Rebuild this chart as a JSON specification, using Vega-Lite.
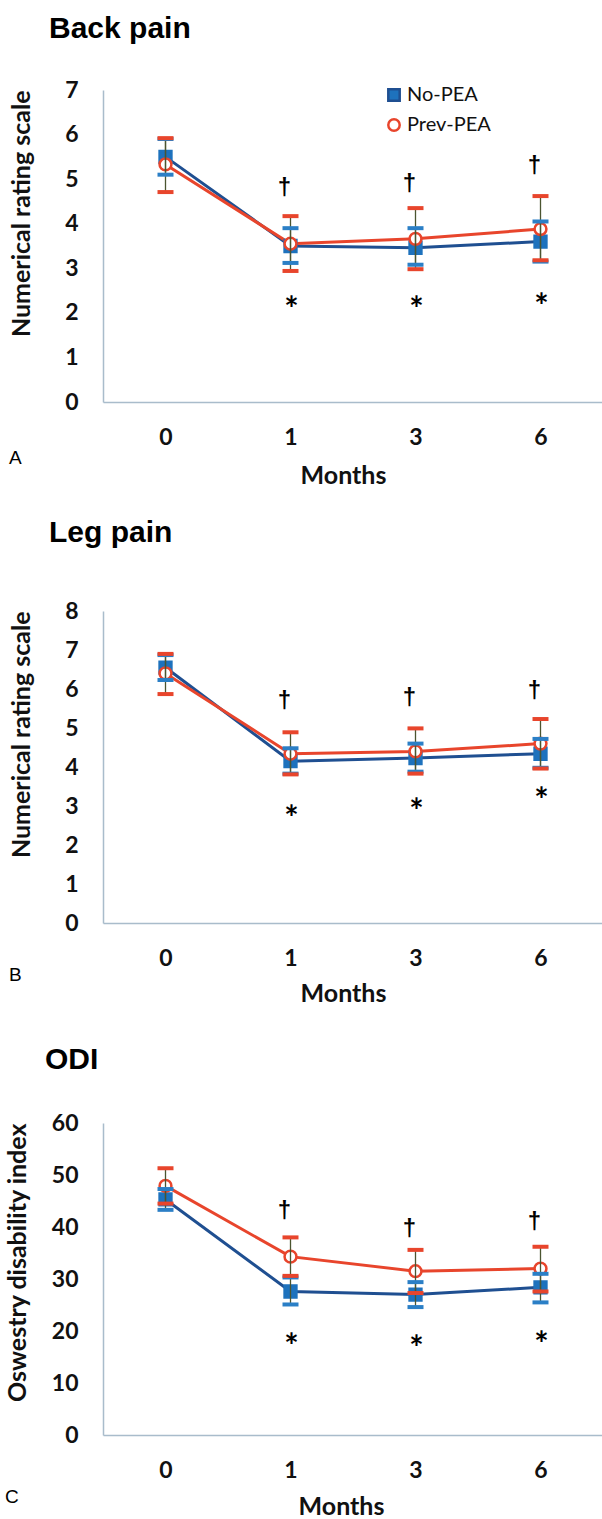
{
  "$schema": "https://vega.github.io/schema/vega-lite/v6.json",
  "background": "white",
  "padding": {"left": 4, "top": 14, "right": 0, "bottom": 0},
  "datasets": {
    "rows": [
      {"panel": "A", "group": "No-PEA", "month": "0", "mean": 5.5, "lo": 5.1, "hi": 5.9},
      {"panel": "A", "group": "No-PEA", "month": "1", "mean": 3.5, "lo": 3.12, "hi": 3.9},
      {"panel": "A", "group": "No-PEA", "month": "3", "mean": 3.46, "lo": 3.08, "hi": 3.9},
      {"panel": "A", "group": "No-PEA", "month": "6", "mean": 3.6, "lo": 3.15, "hi": 4.05},
      {"panel": "A", "group": "Prev-PEA", "month": "0", "mean": 5.33, "lo": 4.71, "hi": 5.92},
      {"panel": "A", "group": "Prev-PEA", "month": "1", "mean": 3.55, "lo": 2.94, "hi": 4.17},
      {"panel": "A", "group": "Prev-PEA", "month": "3", "mean": 3.66, "lo": 2.98, "hi": 4.35},
      {"panel": "A", "group": "Prev-PEA", "month": "6", "mean": 3.88, "lo": 3.18, "hi": 4.62},
      {"panel": "A", "sym": "†", "month": "1", "pos": 4.8},
      {"panel": "A", "sym": "†", "month": "3", "pos": 4.9},
      {"panel": "A", "sym": "†", "month": "6", "pos": 5.3},
      {"panel": "A", "sym": "*", "month": "1", "pos": 2.22},
      {"panel": "A", "sym": "*", "month": "3", "pos": 2.22},
      {"panel": "A", "sym": "*", "month": "6", "pos": 2.29},
      {"panel": "B", "group": "No-PEA", "month": "0", "mean": 6.55, "lo": 6.23, "hi": 6.87},
      {"panel": "B", "group": "No-PEA", "month": "1", "mean": 4.15, "lo": 3.83, "hi": 4.48},
      {"panel": "B", "group": "No-PEA", "month": "3", "mean": 4.23, "lo": 3.88, "hi": 4.6},
      {"panel": "B", "group": "No-PEA", "month": "6", "mean": 4.34, "lo": 3.98, "hi": 4.72},
      {"panel": "B", "group": "Prev-PEA", "month": "0", "mean": 6.4, "lo": 5.87, "hi": 6.9},
      {"panel": "B", "group": "Prev-PEA", "month": "1", "mean": 4.34, "lo": 3.81, "hi": 4.89},
      {"panel": "B", "group": "Prev-PEA", "month": "3", "mean": 4.4, "lo": 3.83, "hi": 4.99},
      {"panel": "B", "group": "Prev-PEA", "month": "6", "mean": 4.6, "lo": 3.96, "hi": 5.23},
      {"panel": "B", "sym": "†", "month": "1", "pos": 5.7},
      {"panel": "B", "sym": "†", "month": "3", "pos": 5.77},
      {"panel": "B", "sym": "†", "month": "6", "pos": 5.96},
      {"panel": "B", "sym": "*", "month": "1", "pos": 2.85},
      {"panel": "B", "sym": "*", "month": "3", "pos": 3.02},
      {"panel": "B", "sym": "*", "month": "6", "pos": 3.32},
      {"panel": "C", "group": "No-PEA", "month": "0", "mean": 45.3, "lo": 43.3, "hi": 47.3},
      {"panel": "C", "group": "No-PEA", "month": "1", "mean": 27.6, "lo": 25.1, "hi": 30.3},
      {"panel": "C", "group": "No-PEA", "month": "3", "mean": 27.0, "lo": 24.6, "hi": 29.4},
      {"panel": "C", "group": "No-PEA", "month": "6", "mean": 28.4, "lo": 25.5, "hi": 31.0},
      {"panel": "C", "group": "Prev-PEA", "month": "0", "mean": 47.9, "lo": 44.5, "hi": 51.3},
      {"panel": "C", "group": "Prev-PEA", "month": "1", "mean": 34.3, "lo": 30.6, "hi": 38.0},
      {"panel": "C", "group": "Prev-PEA", "month": "3", "mean": 31.5, "lo": 27.3, "hi": 35.6},
      {"panel": "C", "group": "Prev-PEA", "month": "6", "mean": 32.0, "lo": 27.6, "hi": 36.2},
      {"panel": "C", "sym": "†", "month": "1", "pos": 43.1},
      {"panel": "C", "sym": "†", "month": "3", "pos": 39.6},
      {"panel": "C", "sym": "†", "month": "6", "pos": 40.9},
      {"panel": "C", "sym": "*", "month": "1", "pos": 18.2},
      {"panel": "C", "sym": "*", "month": "3", "pos": 17.9},
      {"panel": "C", "sym": "*", "month": "6", "pos": 18.7}
    ]
  },
  "config": {
    "view": {"stroke": null},
    "font": "Lato",
    "title": {"font": "Liberation Sans", "fontSize": 30, "fontWeight": "bold", "color": "#000000", "anchor": "start"},
    "axis": {
      "labelFont": "Lato", "labelFontSize": 23, "labelFontWeight": "bold", "labelColor": "#111111", "labelOverlap": false,
      "titleFont": "Lato", "titleFontSize": 25, "titleFontWeight": "bold", "titleColor": "#111111",
      "ticks": false, "grid": false, "domainColor": "#a9bccb", "domainWidth": 1.5
    }
  },
  "resolve": {
    "scale": {"x": "independent", "y": "independent", "color": "independent", "fill": "independent", "stroke": "independent", "shape": "independent"},
    "legend": {"color": "independent", "fill": "independent", "stroke": "independent", "shape": "independent"}
  },
  "spacing": 39,
  "vconcat": [
    {
      "spacing": 30,
      "resolve": {
        "scale": {"x": "independent", "y": "independent", "color": "independent", "fill": "independent", "stroke": "independent", "shape": "independent"},
        "legend": {"color": "independent", "fill": "independent", "stroke": "independent", "shape": "independent"}
      },
      "vconcat": [
        {
          "title": {"text": "Back pain", "frame": "bounds", "dx": 40, "offset": 35},
          "vconcat": [
            {
              "width": 500, "height": 312,
              "title": {"text": "A", "orient": "bottom", "anchor": "start", "frame": "bounds", "font": "Liberation Sans", "fontSize": 19, "fontWeight": "normal", "offset": -39, "dx": 0},
              "data": {"name": "rows"},
              "transform": [{"filter": "datum.panel === 'A'"}],
              "layer": [
                {
                  "transform": [{"filter": "isValid(datum.group)"}],
                  "mark": {"type": "line", "strokeWidth": 3},
                  "encoding": {
                    "x": {"field": "month", "type": "ordinal", "sort": ["0", "1", "3", "6"], "scale": {"type": "point", "padding": 0.5}, "axis": {"title": "Months", "labelAngle": 0, "labelPadding": 24, "titlePadding": 14, "titleX": 240}},
                    "y": {"field": "mean", "type": "quantitative", "scale": {"domain": [0, 7], "nice": false}, "axis": {"title": "Numerical rating scale", "titleAnchor": "end", "values": [0, 1, 2, 3, 4, 5, 6, 7], "labelOverlap": false, "labelPadding": 25, "minExtent": 50, "maxExtent": 50, "titlePadding": 19}},
                    "color": {"field": "group", "type": "nominal", "scale": {"domain": ["No-PEA", "Prev-PEA"], "range": ["#1f4f91", "#e8452c"]},
                      "legend": {"orient": "none", "legendX": 281, "legendY": -5, "title": null, "padding": 0, "labelFont": "Lato", "labelFontSize": 20, "labelColor": "#111111", "symbolSize": 130, "labelOffset": 3, "rowPadding": 8,
                        "encode": {"symbols": {"update": {
                          "shape": {"signal": "datum.value === 'No-PEA' ? 'square' : 'circle'"},
                          "fill": {"signal": "datum.value === 'No-PEA' ? '#1e72bd' : '#ffffff'"},
                          "stroke": {"signal": "datum.value === 'No-PEA' ? '#1e72bd' : '#e8452c'"},
                          "strokeWidth": {"value": 2.5},
                          "opacity": {"value": 1}
                        }}}}}
                  }
                },
                {
                  "transform": [{"filter": "isValid(datum.group)"}],
                  "mark": {"type": "point", "filled": true, "opacity": 1, "strokeWidth": 2.5, "size": 140},
                  "encoding": {
                    "x": {"field": "month", "type": "ordinal", "sort": ["0", "1", "3", "6"]},
                    "y": {"field": "mean", "type": "quantitative"},
                    "shape": {"field": "group", "type": "nominal", "scale": {"domain": ["No-PEA", "Prev-PEA"], "range": ["square", "circle"]}, "legend": null},
                    "fill": {"field": "group", "type": "nominal", "scale": {"domain": ["No-PEA", "Prev-PEA"], "range": ["#1e72bd", "#ffffff"]}, "legend": null},
                    "stroke": {"field": "group", "type": "nominal", "scale": {"domain": ["No-PEA", "Prev-PEA"], "range": ["#1e72bd", "#e8452c"]}, "legend": null}
                  }
                },
                {
                  "transform": [{"filter": "isValid(datum.group)"}],
                  "mark": {"type": "rule", "color": "#4b5530", "strokeWidth": 1.3},
                  "encoding": {"x": {"field": "month", "type": "ordinal", "sort": ["0", "1", "3", "6"]}, "y": {"field": "lo", "type": "quantitative"}, "y2": {"field": "hi"}}
                },
                {
                  "transform": [{"filter": "datum.group === 'No-PEA'"}, {"fold": ["lo", "hi"], "as": ["k", "v"]}],
                  "mark": {"type": "tick", "color": "#2b7fc6", "thickness": 4, "size": 16, "opacity": 1},
                  "encoding": {"x": {"field": "month", "type": "ordinal", "sort": ["0", "1", "3", "6"]}, "y": {"field": "v", "type": "quantitative"}}
                },
                {
                  "transform": [{"filter": "datum.group === 'Prev-PEA'"}, {"fold": ["lo", "hi"], "as": ["k", "v"]}],
                  "mark": {"type": "tick", "color": "#e8452c", "thickness": 4, "size": 16, "opacity": 1},
                  "encoding": {"x": {"field": "month", "type": "ordinal", "sort": ["0", "1", "3", "6"]}, "y": {"field": "v", "type": "quantitative"}}
                },
                {
                  "transform": [{"filter": "datum.sym === '†'"}],
                  "mark": {"type": "text", "font": "Liberation Sans", "fontSize": 24, "fontWeight": "bold", "color": "#000000", "dx": -6, "baseline": "middle"},
                  "encoding": {"x": {"field": "month", "type": "ordinal", "sort": ["0", "1", "3", "6"]}, "y": {"field": "pos", "type": "quantitative"}, "text": {"field": "sym"}}
                },
                {
                  "transform": [{"filter": "datum.sym === '*'"}],
                  "mark": {"type": "text", "font": "Lato", "fontSize": 34, "fontWeight": "bold", "color": "#000000", "dx": 1, "dy": 8, "baseline": "middle"},
                  "encoding": {"x": {"field": "month", "type": "ordinal", "sort": ["0", "1", "3", "6"]}, "y": {"field": "pos", "type": "quantitative"}, "text": {"field": "sym"}}
                }
              ]
            }
          ]
        },
        {
          "title": {"text": "Leg pain", "frame": "bounds", "dx": 40, "offset": 52},
          "vconcat": [
            {
              "width": 500, "height": 312,
              "title": {"text": "B", "orient": "bottom", "anchor": "start", "frame": "bounds", "font": "Liberation Sans", "fontSize": 19, "fontWeight": "normal", "offset": -40, "dx": 0},
              "data": {"name": "rows"},
              "transform": [{"filter": "datum.panel === 'B'"}],
              "layer": [
                {
                  "transform": [{"filter": "isValid(datum.group)"}],
                  "mark": {"type": "line", "strokeWidth": 3},
                  "encoding": {
                    "x": {"field": "month", "type": "ordinal", "sort": ["0", "1", "3", "6"], "scale": {"type": "point", "padding": 0.5}, "axis": {"title": "Months", "labelAngle": 0, "labelPadding": 24, "titlePadding": 11, "titleX": 240}},
                    "y": {"field": "mean", "type": "quantitative", "scale": {"domain": [0, 8], "nice": false}, "axis": {"title": "Numerical rating scale", "titleAnchor": "end", "tickCount": 8, "labelOverlap": false, "labelPadding": 25, "minExtent": 50, "maxExtent": 50, "titlePadding": 19}},
                    "color": {"field": "group", "type": "nominal", "scale": {"domain": ["No-PEA", "Prev-PEA"], "range": ["#1f4f91", "#e8452c"]}, "legend": null}
                  }
                },
                {
                  "transform": [{"filter": "isValid(datum.group)"}],
                  "mark": {"type": "point", "filled": true, "opacity": 1, "strokeWidth": 2.5, "size": 140},
                  "encoding": {
                    "x": {"field": "month", "type": "ordinal", "sort": ["0", "1", "3", "6"]},
                    "y": {"field": "mean", "type": "quantitative"},
                    "shape": {"field": "group", "type": "nominal", "scale": {"domain": ["No-PEA", "Prev-PEA"], "range": ["square", "circle"]}, "legend": null},
                    "fill": {"field": "group", "type": "nominal", "scale": {"domain": ["No-PEA", "Prev-PEA"], "range": ["#1e72bd", "#ffffff"]}, "legend": null},
                    "stroke": {"field": "group", "type": "nominal", "scale": {"domain": ["No-PEA", "Prev-PEA"], "range": ["#1e72bd", "#e8452c"]}, "legend": null}
                  }
                },
                {
                  "transform": [{"filter": "isValid(datum.group)"}],
                  "mark": {"type": "rule", "color": "#4b5530", "strokeWidth": 1.3},
                  "encoding": {"x": {"field": "month", "type": "ordinal", "sort": ["0", "1", "3", "6"]}, "y": {"field": "lo", "type": "quantitative"}, "y2": {"field": "hi"}}
                },
                {
                  "transform": [{"filter": "datum.group === 'No-PEA'"}, {"fold": ["lo", "hi"], "as": ["k", "v"]}],
                  "mark": {"type": "tick", "color": "#2b7fc6", "thickness": 4, "size": 16, "opacity": 1},
                  "encoding": {"x": {"field": "month", "type": "ordinal", "sort": ["0", "1", "3", "6"]}, "y": {"field": "v", "type": "quantitative"}}
                },
                {
                  "transform": [{"filter": "datum.group === 'Prev-PEA'"}, {"fold": ["lo", "hi"], "as": ["k", "v"]}],
                  "mark": {"type": "tick", "color": "#e8452c", "thickness": 4, "size": 16, "opacity": 1},
                  "encoding": {"x": {"field": "month", "type": "ordinal", "sort": ["0", "1", "3", "6"]}, "y": {"field": "v", "type": "quantitative"}}
                },
                {
                  "transform": [{"filter": "datum.sym === '†'"}],
                  "mark": {"type": "text", "font": "Liberation Sans", "fontSize": 24, "fontWeight": "bold", "color": "#000000", "dx": -6, "baseline": "middle"},
                  "encoding": {"x": {"field": "month", "type": "ordinal", "sort": ["0", "1", "3", "6"]}, "y": {"field": "pos", "type": "quantitative"}, "text": {"field": "sym"}}
                },
                {
                  "transform": [{"filter": "datum.sym === '*'"}],
                  "mark": {"type": "text", "font": "Lato", "fontSize": 34, "fontWeight": "bold", "color": "#000000", "dx": 1, "dy": 8, "baseline": "middle"},
                  "encoding": {"x": {"field": "month", "type": "ordinal", "sort": ["0", "1", "3", "6"]}, "y": {"field": "pos", "type": "quantitative"}, "text": {"field": "sym"}}
                }
              ]
            }
          ]
        }
      ]
    },
    {
      "title": {"text": "ODI", "frame": "bounds", "dx": 40, "offset": 37},
      "vconcat": [
        {
          "width": 500, "height": 312,
          "title": {"text": "C", "orient": "bottom", "anchor": "start", "frame": "bounds", "font": "Liberation Sans", "fontSize": 19, "fontWeight": "normal", "offset": -31, "dx": 0},
          "data": {"name": "rows"},
          "transform": [{"filter": "datum.panel === 'C'"}],
          "layer": [
            {
              "transform": [{"filter": "isValid(datum.group)"}],
              "mark": {"type": "line", "strokeWidth": 3},
              "encoding": {
                "x": {"field": "month", "type": "ordinal", "sort": ["0", "1", "3", "6"], "scale": {"type": "point", "padding": 0.5}, "axis": {"title": "Months", "labelAngle": 0, "labelPadding": 24, "titlePadding": 12, "titleX": 238}},
                "y": {"field": "mean", "type": "quantitative", "scale": {"domain": [0, 60], "nice": false}, "axis": {"title": "Oswestry disability index", "titleAnchor": "end", "values": [0, 10, 20, 30, 40, 50, 60], "labelOverlap": false, "labelPadding": 25, "minExtent": 50, "maxExtent": 50, "titlePadding": 23}},
                "color": {"field": "group", "type": "nominal", "scale": {"domain": ["No-PEA", "Prev-PEA"], "range": ["#1f4f91", "#e8452c"]}, "legend": null}
              }
            },
            {
              "transform": [{"filter": "isValid(datum.group)"}],
              "mark": {"type": "point", "filled": true, "opacity": 1, "strokeWidth": 2.5, "size": 140},
              "encoding": {
                "x": {"field": "month", "type": "ordinal", "sort": ["0", "1", "3", "6"]},
                "y": {"field": "mean", "type": "quantitative"},
                "shape": {"field": "group", "type": "nominal", "scale": {"domain": ["No-PEA", "Prev-PEA"], "range": ["square", "circle"]}, "legend": null},
                "fill": {"field": "group", "type": "nominal", "scale": {"domain": ["No-PEA", "Prev-PEA"], "range": ["#1e72bd", "#ffffff"]}, "legend": null},
                "stroke": {"field": "group", "type": "nominal", "scale": {"domain": ["No-PEA", "Prev-PEA"], "range": ["#1e72bd", "#e8452c"]}, "legend": null}
              }
            },
            {
              "transform": [{"filter": "isValid(datum.group)"}],
              "mark": {"type": "rule", "color": "#4b5530", "strokeWidth": 1.3},
              "encoding": {"x": {"field": "month", "type": "ordinal", "sort": ["0", "1", "3", "6"]}, "y": {"field": "lo", "type": "quantitative"}, "y2": {"field": "hi"}}
            },
            {
              "transform": [{"filter": "datum.group === 'No-PEA'"}, {"fold": ["lo", "hi"], "as": ["k", "v"]}],
              "mark": {"type": "tick", "color": "#2b7fc6", "thickness": 4, "size": 16, "opacity": 1},
              "encoding": {"x": {"field": "month", "type": "ordinal", "sort": ["0", "1", "3", "6"]}, "y": {"field": "v", "type": "quantitative"}}
            },
            {
              "transform": [{"filter": "datum.group === 'Prev-PEA'"}, {"fold": ["lo", "hi"], "as": ["k", "v"]}],
              "mark": {"type": "tick", "color": "#e8452c", "thickness": 4, "size": 16, "opacity": 1},
              "encoding": {"x": {"field": "month", "type": "ordinal", "sort": ["0", "1", "3", "6"]}, "y": {"field": "v", "type": "quantitative"}}
            },
            {
              "transform": [{"filter": "datum.sym === '†'"}],
              "mark": {"type": "text", "font": "Liberation Sans", "fontSize": 24, "fontWeight": "bold", "color": "#000000", "dx": -6, "baseline": "middle"},
              "encoding": {"x": {"field": "month", "type": "ordinal", "sort": ["0", "1", "3", "6"]}, "y": {"field": "pos", "type": "quantitative"}, "text": {"field": "sym"}}
            },
            {
              "transform": [{"filter": "datum.sym === '*'"}],
              "mark": {"type": "text", "font": "Lato", "fontSize": 34, "fontWeight": "bold", "color": "#000000", "dx": 1, "dy": 8, "baseline": "middle"},
              "encoding": {"x": {"field": "month", "type": "ordinal", "sort": ["0", "1", "3", "6"]}, "y": {"field": "pos", "type": "quantitative"}, "text": {"field": "sym"}}
            }
          ]
        }
      ]
    }
  ]
}
